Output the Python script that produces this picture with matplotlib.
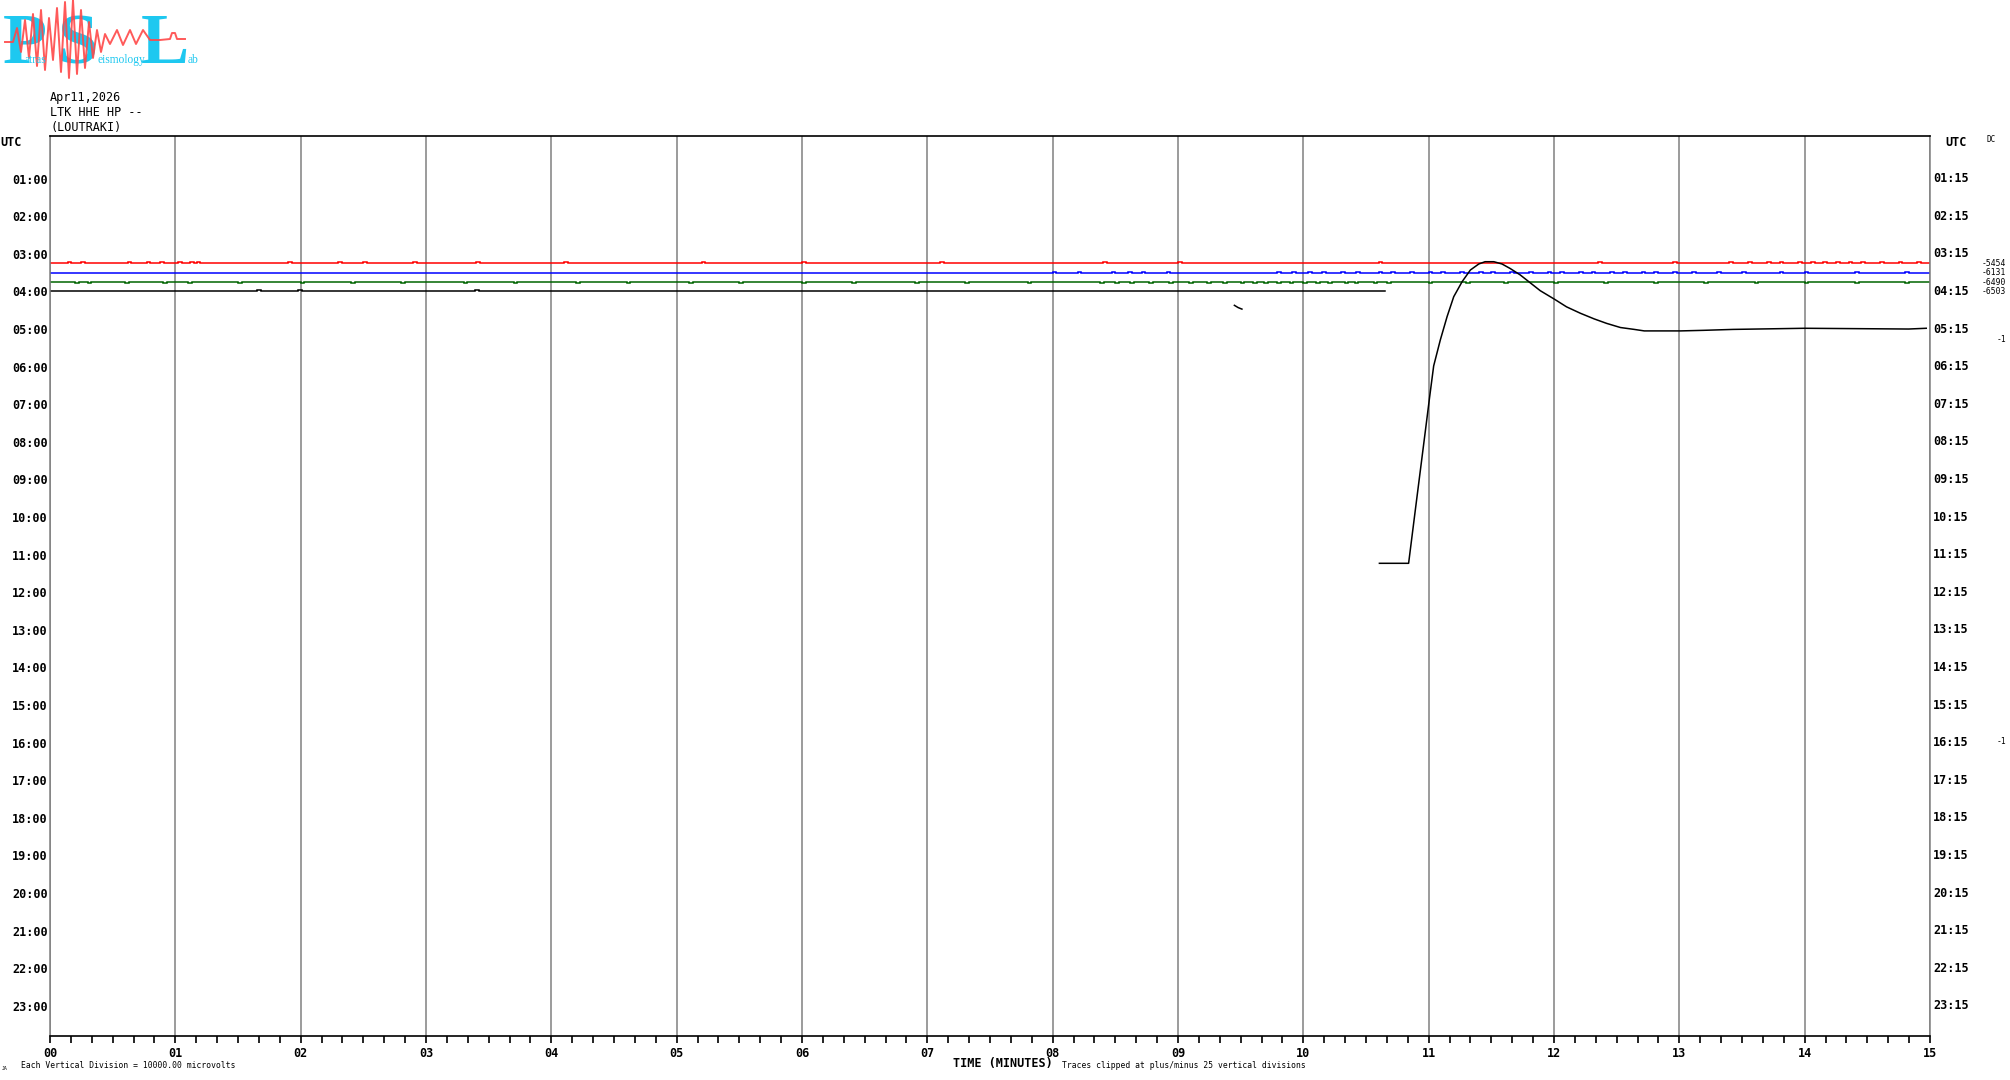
import matplotlib
matplotlib.use("Agg")
import matplotlib.pyplot as plt
from matplotlib.ticker import MultipleLocator

W, H = 2010, 1080
PX = 1 / 37.6  # one screen pixel in hour-row units

hours = list(range(1, 24))
left_labels = [f"{h:02d}:00" for h in hours]
right_labels = [f"{h:02d}:15" for h in hours]
minute_ticks = list(range(0, 16))
minute_labels = [f"{m:02d}" for m in minute_ticks]

row_levels = [3.25, 3.5, 3.75, 4.0]
row_colors = ["#ff0000", "#0000ff", "#006400", "#000000"]
row_ends = [15.0, 15.0, 15.0, 10.655]
dc_values = ["-5454", "-6131", "-6490", "-6503"]
extra_dc = [(5.27, "-1"), (15.98, "-1")]

# minutes where a quiet trace flicks one pixel (up for red/blue/black, down for green)
red_blips = [0.14, 0.25, 0.62, 0.77, 0.88, 1.02, 1.12, 1.17, 1.9, 2.3, 2.5, 2.9,
             3.4, 4.1, 5.2, 6.0, 7.1, 8.4, 9.0, 10.6, 12.35, 12.95, 13.4, 13.55,
             13.7, 13.8, 13.95, 14.05, 14.15, 14.25, 14.35, 14.45, 14.6, 14.75, 14.9]
blue_blips = [8.0, 8.2, 8.47, 8.6, 8.71, 8.91, 9.79, 9.91, 10.04, 10.15, 10.3,
              10.42, 10.6, 10.7, 10.85, 11.0, 11.1, 11.25, 11.4, 11.5, 11.65,
              11.8, 11.95, 12.05, 12.2, 12.3, 12.45, 12.55, 12.7, 12.8, 12.95,
              13.1, 13.3, 13.5, 13.8, 14.0, 14.4, 14.8]
green_blips = [0.2, 0.3, 0.6, 0.9, 1.1, 1.5, 2.0, 2.4, 2.8, 3.3, 3.7, 4.2, 4.6,
               5.1, 5.5, 6.0, 6.4, 6.9, 7.3, 7.8, 8.38, 8.5, 8.62, 8.77, 8.93,
               9.09, 9.23, 9.36, 9.5, 9.6, 9.69, 9.79, 9.89, 10.0, 10.1, 10.2,
               10.33, 10.41, 10.56, 10.67, 11.0, 11.3, 11.6, 12.0, 12.4, 12.8,
               13.2, 13.6, 14.0, 14.4, 14.8]
black_blips = [1.65, 1.98, 3.39]

# the large clipped black trace (minutes, row units)
wave_t = [10.607, 10.84, 10.894, 10.934, 10.974, 11.008, 11.04, 11.093, 11.147,
          11.2, 11.267, 11.333, 11.40, 11.45, 11.52, 11.585, 11.65, 11.73, 11.81,
          11.89, 12.005, 12.10, 12.21, 12.32, 12.42, 12.53, 12.64, 12.72, 13.01,
          13.19, 13.43, 14.0, 14.83, 14.97]
wave_h = [11.23, 11.23, 9.80, 8.75, 7.70, 6.80, 5.98, 5.29, 4.67, 4.14, 3.74,
          3.43, 3.27, 3.21, 3.21, 3.27, 3.39, 3.56, 3.77, 3.98, 4.21, 4.41, 4.58,
          4.73, 4.85, 4.96, 5.01, 5.05, 5.05, 5.035, 5.01, 4.98, 5.00, 4.98]
frag_t = [9.45, 9.48, 9.51]
frag_h = [4.37, 4.43, 4.47]

# logo seismogram (logo pixel coords)
logo_x = [5, 13, 17, 21, 25, 29, 33, 37, 41, 45, 49, 53, 57, 61, 65, 69, 73, 77,
          81, 85, 89, 93, 97, 101, 105, 110, 117, 123, 130, 136, 143, 150, 160,
          170, 172, 175, 177, 185]
logo_y = [42, 42, 28, 52, 20, 58, 14, 66, 10, 70, 18, 60, 8, 72, 2, 78, 0, 74,
          10, 68, 22, 58, 30, 52, 34, 44, 30, 45, 30, 44, 30, 40, 40, 39, 33, 33,
          39, 39]


def blip_trace(level, blips, end, sign=-1, width=0.03):
    xs, ys = [0.0], [level]
    for b in blips:
        if b >= end:
            break
        xs += [b, b, b + width, b + width]
        ys += [level, level + sign * PX, level + sign * PX, level]
    xs.append(end)
    ys.append(level)
    return xs, ys


def fpx(x, y):
    return x / W, 1 - y / H


MONO = "DejaVu Sans Mono"
fig = plt.figure(figsize=(W / 100, H / 100), dpi=100)

# ---- main helicorder axes ----
ax = fig.add_axes([50 / W, 1 - 1036 / H, 1880 / W, 900 / H])
ax.set_xlim(0, 15)
ax.set_ylim(23.80, -0.133)

blips = [red_blips, blue_blips, green_blips, black_blips]
signs = [-1, -1, 1, -1]
for lvl, col, end, bl, sg in zip(row_levels, row_colors, row_ends, blips, signs):
    xs, ys = blip_trace(lvl, bl, end, sg)
    ax.plot(xs, ys, color=col, lw=1.1, solid_joinstyle="miter")
ax.plot(wave_t, wave_h, color="black", lw=1.1)
ax.plot(frag_t, frag_h, color="black", lw=1.1)

ax.set_xticks(minute_ticks)
ax.set_xticklabels(minute_labels, fontfamily=MONO, fontweight="bold", fontsize=8.5)
ax.xaxis.set_minor_locator(MultipleLocator(1 / 6))
ax.tick_params(axis="x", which="both", direction="out", length=5, width=1.2,
               color="black", pad=3)
ax.grid(axis="x", which="major", color="#808080", lw=1.1)

ax.set_yticks(hours)
ax.set_yticklabels(left_labels, fontfamily=MONO, fontweight="bold", fontsize=8.5)
ax.tick_params(axis="y", length=0, pad=1.5)
for h, lab in zip(hours, right_labels):
    ax.text(1.0017, h, lab, transform=ax.get_yaxis_transform(), ha="left",
            va="center", fontfamily=MONO, fontweight="bold", fontsize=8.5)

for side in ("left", "right"):
    ax.spines[side].set_color("#808080")
    ax.spines[side].set_linewidth(1.1)
for side in ("top", "bottom"):
    ax.spines[side].set_color("black")
    ax.spines[side].set_linewidth(1.2)

# ---- right-hand DC offsets ----
fig.text(*fpx(1986, 140), "DC", fontfamily=MONO, fontsize=5.5, va="center")
for lvl, val in zip(row_levels, dc_values):
    ax.text(1.0272, lvl, val, transform=ax.get_yaxis_transform(), ha="left",
            va="center", fontfamily=MONO, fontsize=5.8)
for lvl, val in extra_dc:
    ax.text(1.0405, lvl, val, transform=ax.get_yaxis_transform(), ha="right",
            va="center", fontfamily=MONO, fontsize=5.8)

# ---- header / footer text ----
fig.text(*fpx(0, 142), "UTC", fontfamily=MONO, fontweight="bold", fontsize=8.5,
         va="center")
fig.text(*fpx(1945, 142), "UTC", fontfamily=MONO, fontweight="bold", fontsize=8.5,
         va="center")
for y, s in zip([97, 113, 127], ["Apr11,2026", "LTK HHE HP --", "(LOUTRAKI)"]):
    fig.text(*fpx(50, y), s, fontfamily=MONO, fontsize=8.5, va="center")
fig.text(*fpx(1003, 1063), "TIME (MINUTES)", fontfamily=MONO, fontweight="bold",
         fontsize=8.5, ha="center", va="center")
fig.text(*fpx(1062, 1066), "Traces clipped at plus/minus 25 vertical divisions",
         fontfamily=MONO, fontsize=5.8, va="center")
fig.text(*fpx(21, 1066), "Each Vertical Division = 10000.00 microvolts",
         fontfamily=MONO, fontsize=5.8, va="center")
fig.text(*fpx(2, 1068), "JA", fontfamily=MONO, fontsize=3.5, va="center")

# ---- PSL logo ----
lg = fig.add_axes([0, 1 - 80 / H, 205 / W, 80 / H])
lg.set_xlim(0, 205)
lg.set_ylim(80, 0)
lg.axis("off")
cyan = "#1ec8f0"
for x, s in [(3, "P"), (57, "S"), (141, "L")]:
    lg.text(x, 63, s, fontfamily="Liberation Serif", fontweight="bold",
            fontsize=52, color=cyan, va="baseline", ha="left", zorder=1)
lg.plot(logo_x, logo_y, color="#ff4848", lw=1.4, alpha=0.9, zorder=2)
for x, s in [(25, "atras"), (97, "eismology"), (188, "ab")]:
    lg.text(x, 63, s, fontfamily="Liberation Serif", fontsize=8.3, color=cyan,
            va="baseline", ha="left", zorder=3)

fig.savefig("out.png", dpi=100)
